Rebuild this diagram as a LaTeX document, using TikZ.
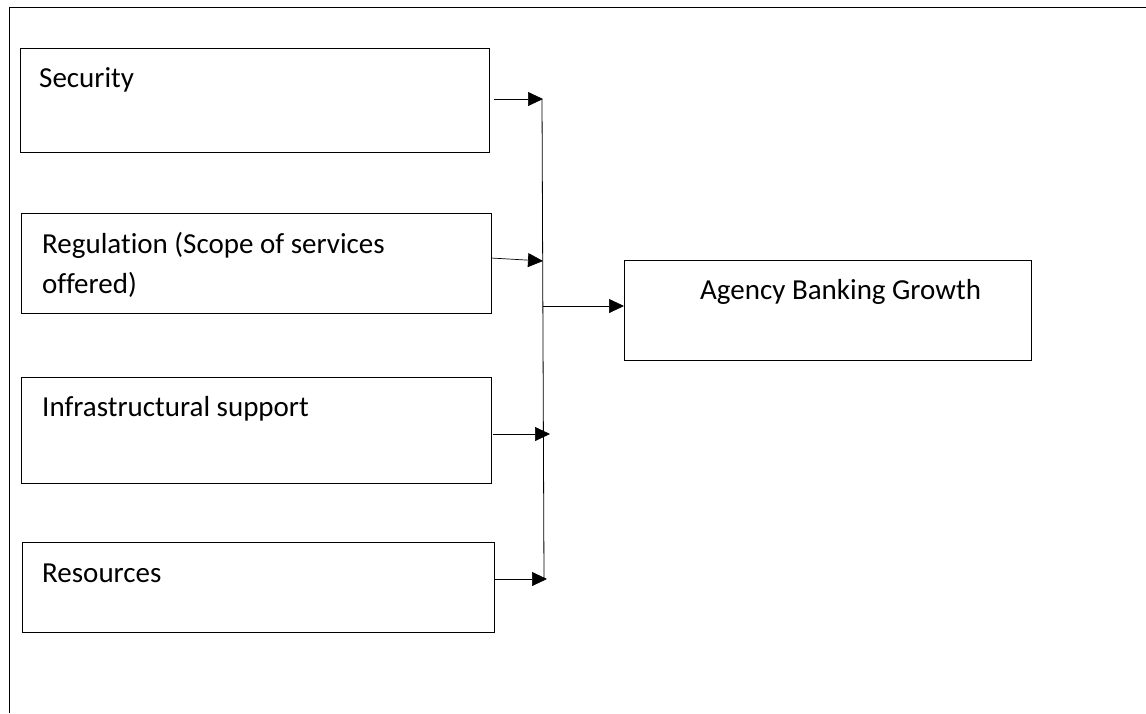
\documentclass[tikz,border=0pt]{standalone}
\usepackage{fontspec}
\setmainfont[Ligatures=NoCommon]{Carlito}
\usetikzlibrary{arrows.meta}
\begin{document}
\begin{tikzpicture}[x=1pt,y=-1pt,
  box/.style={draw,line width=0.9pt},
  lbl/.style={anchor=base west,inner sep=0pt,font=\fontsize{29}{35}\selectfont},
  arr/.style={line width=0.7pt,-{Triangle[length=15pt,width=14pt]}},
  ln/.style={line width=0.8pt}]
\useasboundingbox (0,0) rectangle (1146,713);
\draw[line width=0.9pt] (9,713) -- (9,7) -- (1146,7);
\draw[box] (20,48) rectangle (489,152);
\draw[box] (21,213) rectangle (491,313);
\draw[box] (21,377) rectangle (491,483);
\draw[box] (22,542) rectangle (494,632);
\draw[box] (624,260) rectangle (1031,360);
\node[lbl] (t1) at (39,87) {Security};
\node[lbl] (t2) at (42,253) {Regulation (Scope of services};
\node[lbl] (t2b) at (42,293) {offered)};
\node[lbl] (t3) at (42,416) {Infrastructural support};
\node[lbl] (t4) at (42,582) {Resources};
\node[lbl] (t5) at (700,299) {Agency Banking Growth};
\coordinate (v1) at (542,99);
\coordinate (v4) at (544,579);
\draw[ln] (v1) -- (v4);
\draw[arr] (494,99) -- (543,99);
\draw[arr] (491,258) -- (543,261);
\draw[arr] (493,434) -- (550,434);
\draw[arr] (494,579) -- (547,579);
\draw[arr] (543,306) -- (624,306);
\end{tikzpicture}
\end{document}
